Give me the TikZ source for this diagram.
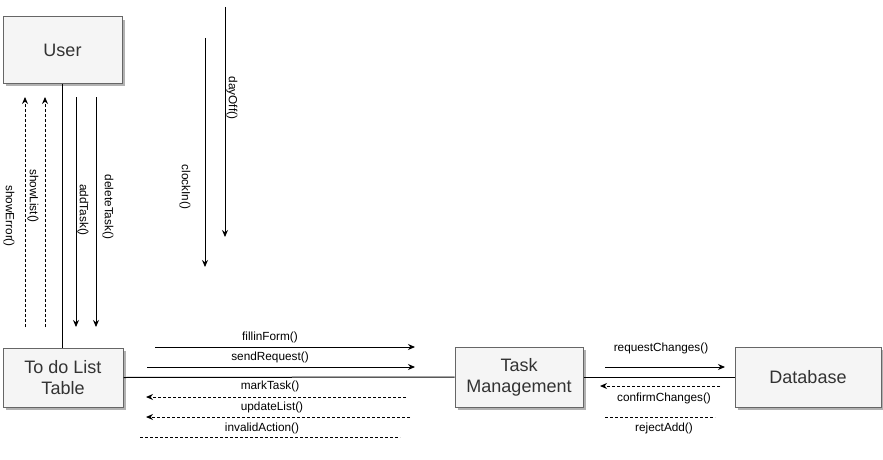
\documentclass[tikz,border=0pt]{standalone}
\usepackage{fontspec}
\setmainfont{Liberation Sans}
\usetikzlibrary{arrows.meta,shadows}
\definecolor{boxfill}{HTML}{F5F5F5}
\definecolor{boxline}{HTML}{666666}
\definecolor{boxtext}{HTML}{333333}
\begin{document}
\begin{tikzpicture}[x=1pt,y=-1pt,
  box/.style={draw=boxline,fill=boxfill,text=boxtext,line width=1pt,
    font=\fontsize{18}{21}\selectfont,align=center,inner sep=0pt,
    drop shadow={shadow xshift=3pt,shadow yshift=-3pt,fill=black!30,opacity=1}},
  msg/.style={line width=1pt,-{Stealth[length=7pt,width=6pt]}},
  rmsg/.style={line width=1pt,dashed,dash pattern=on 3pt off 2pt,-{Stealth[length=7pt,width=6pt]}},
  plainmsg/.style={line width=1pt,dashed,dash pattern=on 3pt off 2pt},
  conn/.style={line width=1pt},
  lbl/.style={font=\fontsize{11.8}{13}\selectfont,text=black,inner sep=0pt},
  vlbl/.style={lbl,rotate=-90}]
\useasboundingbox (0,0) rectangle (883,460);
% boxes
\node[box,minimum width=119pt,minimum height=66pt] (user) at (62.5,50) {User};
\node[box,minimum width=120pt,minimum height=59pt] (todo) at (63,377.5) {To do List\\Table};
\node[box,minimum width=128pt,minimum height=60pt] (task) at (519,377) {Task\\Management};
\node[box,minimum width=146pt,minimum height=60pt] (db) at (808,377) {Database};
% connectors
\draw[conn] (user.south -| 62,0) -- (todo.north -| 62,0);
\draw[conn] (todo.east) -- (task.west);
\draw[conn] (task.east) -- (db.west);
% vertical messages
\coordinate (se1) at (25,327); \coordinate (se2) at (25,97);
\coordinate (sl1) at (45,327); \coordinate (sl2) at (45,97);
\coordinate (at1) at (76,97); \coordinate (at2) at (76,327);
\coordinate (dt1) at (96,97); \coordinate (dt2) at (96,327);
\coordinate (ci1) at (205,38); \coordinate (ci2) at (205,267);
\coordinate (do1) at (225,7); \coordinate (do2) at (225,237);
\draw[rmsg] (se1) -- (se2);
\draw[rmsg] (sl1) -- (sl2);
\draw[msg] (at1) -- (at2);
\draw[msg] (dt1) -- (dt2);
\draw[msg] (ci1) -- (ci2);
\draw[msg] (do1) -- (do2);
\node[vlbl] (lse) at (9,216) {showError()};
\node[vlbl] (lsl) at (33,196) {showList()};
\node[vlbl] (lat) at (83,210) {addTask()};
\node[vlbl] (ldt) at (108,207) {deleteTask()};
\node[vlbl] (lci) at (185,187) {clockIn()};
\node[vlbl] (ldo) at (232,98) {dayOff()};
% horizontal messages left
\coordinate (ff1) at (155,347); \coordinate (ff2) at (415,347);
\coordinate (sr1) at (147,367); \coordinate (sr2) at (415,367);
\coordinate (mt1) at (406,397); \coordinate (mt2) at (146,397);
\coordinate (ul1) at (410,417); \coordinate (ul2) at (146,417);
\coordinate (ia1) at (140,437); \coordinate (ia2) at (400,437);
\draw[msg] (ff1) -- (ff2);
\draw[msg] (sr1) -- (sr2);
\draw[rmsg] (mt1) -- (mt2);
\draw[rmsg] (ul1) -- (ul2);
\draw[plainmsg] (ia1) -- (ia2);
\node[lbl] (lff) at (270,337) {fillinForm()};
\node[lbl] (lsr) at (270,357) {sendRequest()};
\node[lbl] (lmt) at (270,386) {markTask()};
\node[lbl] (lul) at (272,407) {updateList()};
\node[lbl] (lia) at (262,428) {invalidAction()};
% horizontal messages right
\coordinate (rc1) at (605,367); \coordinate (rc2) at (725,367);
\coordinate (cc1) at (720,386); \coordinate (cc2) at (600,386);
\coordinate (ra1) at (605,417); \coordinate (ra2) at (715,417);
\draw[msg] (rc1) -- (rc2);
\draw[rmsg] (cc1) -- (cc2);
\draw[plainmsg] (ra1) -- (ra2);
\node[lbl] (lrc) at (661,348) {requestChanges()};
\node[lbl] (lcc) at (664,398) {confirmChanges()};
\node[lbl] (lra) at (664,428) {rejectAdd()};
\end{tikzpicture}
\end{document}
